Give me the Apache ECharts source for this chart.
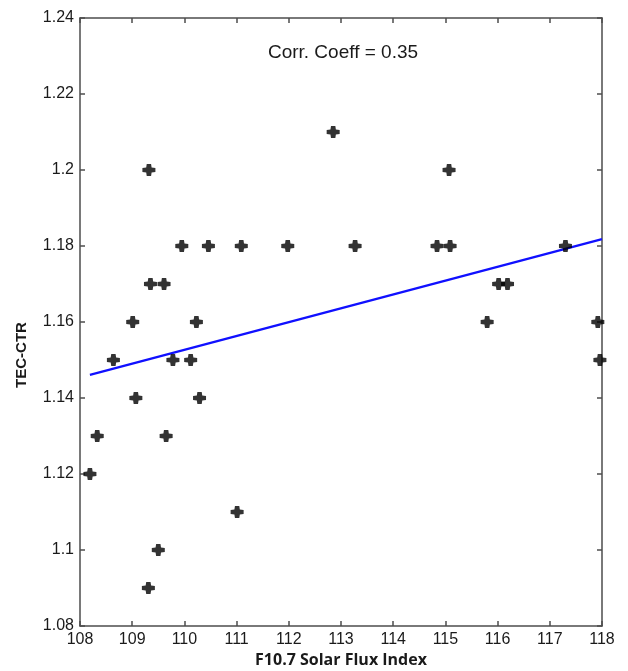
<!DOCTYPE html>
<html>
<head>
<meta charset="utf-8">
<script src="https://cdn.jsdelivr.net/npm/echarts@6/dist/echarts.min.js"></script>
<style>
    html, body {margin: 0; padding: 0; background: #fff;}
    #chart {width: 628px; height: 671px;}
</style>
</head>
<body>
<div id="chart"></div>
<script>
// 观测点 (F10.7, TEC-CTR)
var fluxX = [108.19, 108.33, 108.64, 109.01, 109.07, 109.32, 109.35, 109.31, 109.50, 109.61,
    109.65, 109.78, 109.95, 110.12, 110.23, 110.29, 110.46, 111.01, 111.09, 111.98,
    112.85, 113.27, 114.84, 115.07, 115.09, 115.80, 116.02, 116.19, 117.30, 117.92, 117.96];
var tecY = [1.12, 1.13, 1.15, 1.16, 1.14, 1.20, 1.17, 1.09, 1.10, 1.17,
    1.13, 1.15, 1.18, 1.15, 1.16, 1.14, 1.18, 1.11, 1.18, 1.18,
    1.21, 1.18, 1.18, 1.20, 1.18, 1.16, 1.17, 1.17, 1.18, 1.16, 1.15];
// 拟合直线端点
var fitX = [108.19, 118];
var fitY = [1.1461, 1.1818];
var corrText = 'Corr. Coeff = 0.35';
var xTicks = [108, 109, 110, 111, 112, 113, 114, 115, 116, 117, 118];
var yTicks = [1.08, 1.10, 1.12, 1.14, 1.16, 1.18, 1.20, 1.22, 1.24];

var myChart = echarts.init(document.getElementById('chart'));

var frameLine = {show: true, lineStyle: {color: '#4d4d4d', width: 1.5}};
var tickIn = {show: true, inside: true, length: 5, lineStyle: {color: '#4d4d4d', width: 1.5}};
var labelStyle = {color: '#1a1a1a', fontSize: 16, fontFamily: 'Liberation Sans', margin: 6};

var points = [];
for (var i = 0; i < fluxX.length; i++) {
    points.push([fluxX[i], tecY[i]]);
}
var fitLine = [];
for (var j = 0; j < fitX.length; j++) {
    fitLine.push([fitX[j], fitY[j]]);
}

var option = {
    animation: false,
    grid: {left: 80, right: 26, top: 18, bottom: 45, outerBoundsMode: 'none'},
    xAxis: [{
        type: 'value',
        min: xTicks[0],
        max: xTicks[xTicks.length - 1],
        interval: 1,
        position: 'bottom',
        axisLine: frameLine,
        axisTick: tickIn,
        splitLine: {show: false},
        axisLabel: labelStyle,
        name: 'F10.7 Solar Flux Index',
        nameLocation: 'middle',
        nameGap: 26,
        nameTextStyle: {color: '#1a1a1a', fontSize: 16, fontWeight: 'bold', fontFamily: 'Open Sans'}
    }, {
        type: 'value',
        min: xTicks[0],
        max: xTicks[xTicks.length - 1],
        interval: 1,
        position: 'top',
        axisLine: frameLine,
        axisTick: tickIn,
        splitLine: {show: false},
        axisLabel: {show: false}
    }],
    yAxis: [{
        type: 'value',
        min: yTicks[0],
        max: yTicks[yTicks.length - 1],
        interval: 0.02,
        position: 'left',
        axisLine: frameLine,
        axisTick: tickIn,
        splitLine: {show: false},
        axisLabel: {
            color: '#1a1a1a', fontSize: 16, fontFamily: 'Liberation Sans', margin: 6,
            formatter: function (v) {
                return String(Math.round(v * 100) / 100);
            }
        }
    }, {
        type: 'value',
        min: yTicks[0],
        max: yTicks[yTicks.length - 1],
        interval: 0.02,
        position: 'right',
        axisLine: frameLine,
        axisTick: tickIn,
        splitLine: {show: false},
        axisLabel: {show: false}
    }],
    graphic: [{
        type: 'text',
        x: 343,
        y: 53,
        style: {
            text: corrText,
            fill: '#1a1a1a',
            font: '19px "Liberation Sans"',
            align: 'center',
            verticalAlign: 'middle'
        }
    }, {
        type: 'text',
        x: 22,
        y: 355,
        rotation: Math.PI / 2,
        style: {
            text: 'TEC-CTR',
            fill: '#1a1a1a',
            font: 'bold 15px "Liberation Sans"',
            align: 'center',
            verticalAlign: 'middle'
        }
    }],
    series: [{
        type: 'line',
        data: fitLine,
        symbol: 'none',
        lineStyle: {color: '#1010ff', width: 2.2},
        z: 2
    }, {
        type: 'scatter',
        data: points,
        // 粗十字标记
        symbol: 'path://M-2,-6 L2,-6 L2.5,-2.5 L6,-2 L6,2 L2.5,2.5 L2,6 L-2,6 L-2.5,2.5 L-6,2 L-6,-2 L-2.5,-2.5 Z',
        symbolSize: [13, 12],
        itemStyle: {color: '#000'},
        z: 3
    }]
};
myChart.setOption(option);
</script>
</body>
</html>
